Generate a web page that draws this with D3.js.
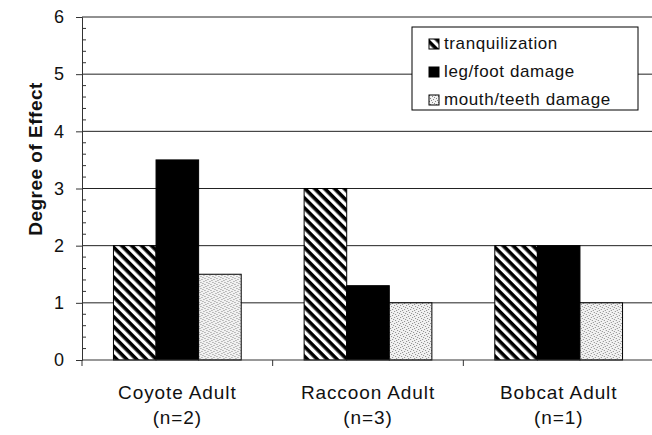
<!DOCTYPE html>
<html>
<head>
<meta charset="utf-8">
<script src="https://cdn.jsdelivr.net/npm/d3@7"></script>
<style>
  body { margin: 0; background: #fff; }
  text { font-family: Arial, "Liberation Sans", sans-serif; fill: #111; }
</style>
</head>
<body>
<div id="chart"></div>
<script>
const categories = ['Coyote Adult', 'Raccoon Adult', 'Bobcat Adult'];
const sampleSizes = ['(n=2)', '(n=3)', '(n=1)'];
const seriesNames = ['tranquilization', 'leg/foot damage', 'mouth/teeth damage'];
const tranquilization = [2, 3, 2];
const legFootDamage = [3.5, 1.3, 2];
const mouthTeethDamage = [1.5, 1, 1];
const yTicks = [0, 1, 2, 3, 4, 5, 6];

const width = 652;
const height = 435;
const margin = { top: 17, right: -2, bottom: 75, left: 82 };
const innerW = width - margin.left - margin.right;
const innerH = height - margin.top - margin.bottom;

const svg = d3.select('#chart')
  .append('svg')
  .attr('width', width)
  .attr('height', height);

// fill patterns
const defs = svg.append('defs');
const hatch = defs.append('pattern')
  .attr('id', 'hatch')
  .attr('patternUnits', 'userSpaceOnUse')
  .attr('width', 7).attr('height', 7)
  .attr('patternTransform', 'rotate(45)');
hatch.append('rect').attr('width', 7).attr('height', 7).attr('fill', '#fff');
hatch.append('rect').attr('width', 7).attr('height', 3.6).attr('fill', '#000');

const dots = defs.append('pattern')
  .attr('id', 'dots')
  .attr('patternUnits', 'userSpaceOnUse')
  .attr('width', 6).attr('height', 6);
dots.append('rect').attr('width', 6).attr('height', 6).attr('fill', '#f2f2f2');
[[0, 0], [3, 1], [1, 3], [4, 4], [5, 2], [2, 5]].forEach(p => {
  dots.append('rect').attr('x', p[0]).attr('y', p[1])
    .attr('width', 1).attr('height', 1).attr('fill', '#888');
});

const fills = ['url(#hatch)', '#000', 'url(#dots)'];

const g = svg.append('g')
  .attr('transform', `translate(${margin.left},${margin.top})`);

const x0 = d3.scaleBand()
  .domain(categories)
  .range([0, innerW])
  .paddingInner(0.33)
  .paddingOuter(0.165);

const x1 = d3.scaleBand()
  .domain(seriesNames)
  .range([0, x0.bandwidth()]);

const y = d3.scaleLinear()
  .domain([0, 6])
  .range([innerH, 0]);

// gridlines
g.append('g')
  .selectAll('line')
  .data(yTicks.filter(d => d > 0))
  .enter().append('line')
  .attr('x1', 0).attr('x2', innerW)
  .attr('y1', d => y(d)).attr('y2', d => y(d))
  .attr('stroke', '#222')
  .attr('stroke-width', 1);

// bars
const seriesValues = [tranquilization, legFootDamage, mouthTeethDamage];
const rows = categories.map((c, i) => ({
  category: c,
  values: seriesNames.map((s, j) => ({ name: s, idx: j, value: seriesValues[j][i] }))
}));

const groups = g.selectAll('.group')
  .data(rows)
  .enter().append('g')
  .attr('class', 'group')
  .attr('transform', d => `translate(${x0(d.category)},0)`);

groups.selectAll('rect')
  .data(d => d.values)
  .enter().append('rect')
  .attr('x', d => x1(d.name))
  .attr('y', d => y(d.value))
  .attr('width', x1.bandwidth())
  .attr('height', d => innerH - y(d.value))
  .attr('fill', d => fills[d.idx])
  .attr('stroke', '#000')
  .attr('stroke-width', 1);

// y axis
const yAxis = d3.axisLeft(y)
  .tickValues(yTicks)
  .tickSize(6)
  .tickPadding(12)
  .tickFormat(d3.format('d'));
const yg = g.append('g').call(yAxis);
yg.select('.domain').attr('stroke', '#333');
yg.selectAll('.tick line').attr('stroke', '#333');
yg.selectAll('.tick text').style('font-size', '18px');

// minor ticks on the inside
const minor = d3.range(0, 6.001, 0.2).filter(v => Math.abs(v - Math.round(v)) > 0.01);
g.append('g')
  .selectAll('line')
  .data(minor)
  .enter().append('line')
  .attr('x1', 0).attr('x2', 4)
  .attr('y1', d => y(d)).attr('y2', d => y(d))
  .attr('stroke', '#333');

// x axis
g.append('line')
  .attr('x1', 0).attr('x2', innerW)
  .attr('y1', innerH).attr('y2', innerH)
  .attr('stroke', '#333');

const step = x0.step();
g.append('g')
  .selectAll('line')
  .data(categories)
  .enter().append('line')
  .attr('x1', d => x0(d) - step * x0.paddingInner() / 2)
  .attr('x2', d => x0(d) - step * x0.paddingInner() / 2)
  .attr('y1', innerH).attr('y2', innerH + 6)
  .attr('stroke', '#333');

const labels = g.append('g')
  .selectAll('text')
  .data(categories)
  .enter().append('text')
  .attr('x', d => x0(d) + x0.bandwidth() / 2)
  .attr('y', innerH + 39)
  .attr('text-anchor', 'middle')
  .style('font-size', '19px')
  .style('letter-spacing', '0.9px');
labels.append('tspan').text(d => d);
labels.append('tspan')
  .attr('x', d => x0(d) + x0.bandwidth() / 2)
  .attr('dy', 25)
  .text((d, i) => sampleSizes[i]);

// y axis title
svg.append('text')
  .attr('transform', 'translate(42,159) rotate(-90)')
  .attr('text-anchor', 'middle')
  .style('font-size', '19px')
  .style('font-weight', 'bold')
  .style('letter-spacing', '0.5px')
  .text('Degree of Effect');

// legend
const legend = svg.append('g').attr('transform', 'translate(412,27)');
legend.append('rect')
  .attr('width', 226).attr('height', 83)
  .attr('fill', '#fff')
  .attr('stroke', '#000');
const items = legend.selectAll('.item')
  .data(seriesNames)
  .enter().append('g')
  .attr('class', 'item')
  .attr('transform', (d, i) => `translate(17,${12 + i * 28})`);
items.append('rect')
  .attr('width', 10).attr('height', 10)
  .attr('fill', (d, i) => fills[i])
  .attr('stroke', '#000');
items.append('text')
  .attr('x', 15).attr('y', 10)
  .style('font-size', '17px')
  .style('letter-spacing', '0.6px')
  .text(d => d);
</script>
</body>
</html>
